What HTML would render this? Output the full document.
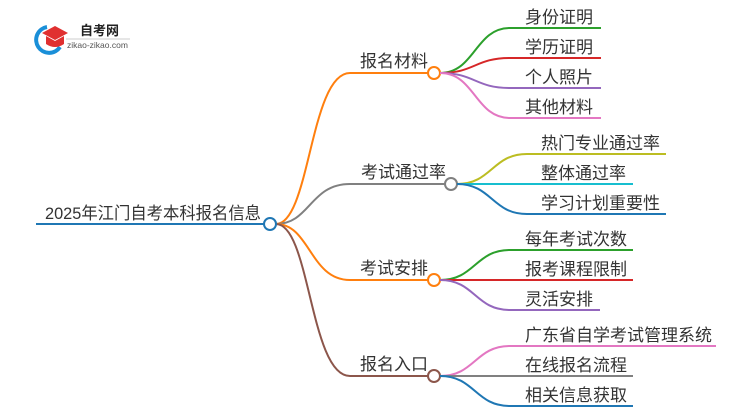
<!DOCTYPE html>
<html><head><meta charset="utf-8"><style>
body{margin:0;width:750px;height:410px;background:#fff;overflow:hidden}
svg text{font-family:"Liberation Sans","Noto Sans CJK SC",sans-serif;fill:#333}
</style></head><body>
<svg width="750" height="410" viewBox="0 0 750 410" xmlns="http://www.w3.org/2000/svg" fill="none" stroke-width="2">
<!-- logo -->
<path d="M47 27 A13 13 0 1 0 60 47" stroke="#1a8fd8" stroke-width="4"/>
<polygon points="42,33 55,26 68,33 55,40" fill="#e03030"/>
<path d="M46 36 v8 q9 6 18 0 v-8 l-9 5z" fill="#e03030"/>
<text x="80" y="35" font-size="13" font-weight="bold" style="fill:#222">自考网</text>
<line x1="66" y1="39" x2="130" y2="39" stroke="#ccc" stroke-width="1"/>
<text x="67" y="48" font-size="8.5" style="fill:#555">zikao-zikao.com</text>

<!-- root -->
<line x1="36" y1="224" x2="264" y2="224" stroke="#1f77b4"/>
<text x="45" y="219" font-size="17" textLength="216" lengthAdjust="spacingAndGlyphs">2025年江门自考本科报名信息</text>

<!-- main branches -->
<path d="M276 224 C310 224 310 73 350 73 H428" stroke="#ff7f0e"/>
<path d="M276 224 C310 224 310 184 350 184 H445" stroke="#808080"/>
<path d="M276 224 C310 224 310 280 350 280 H428" stroke="#ff7f0e"/>
<path d="M276 224 C310 224 310 376 350 376 H428" stroke="#8c564b"/>
<circle cx="270" cy="224" r="6" fill="#fff" stroke="#1f77b4"/>
<circle cx="434" cy="73" r="6" fill="#fff" stroke="#ff7f0e"/>
<circle cx="451" cy="184" r="6" fill="#fff" stroke="#808080"/>
<circle cx="434" cy="280" r="6" fill="#fff" stroke="#ff7f0e"/>
<circle cx="434" cy="376" r="6" fill="#fff" stroke="#8c564b"/>
<g font-size="17">
<text x="360" y="67">报名材料</text>
<text x="361" y="178">考试通过率</text>
<text x="360" y="274">考试安排</text>
<text x="360" y="370">报名入口</text>
</g>

<!-- leaves branch 1 -->
<path d="M440 73 C475 73 475 28 510 28 H601" stroke="#2ca02c"/>
<path d="M440 73 C475 73 475 58 510 58 H601" stroke="#d62728"/>
<path d="M440 73 C475 73 475 88 510 88 H601" stroke="#9467bd"/>
<path d="M440 73 C475 73 475 118 510 118 H601" stroke="#e377c2"/>
<!-- branch 2 -->
<path d="M457 184 C492 184 492 154 527 154 H666" stroke="#bcbd22"/>
<path d="M457 184 H633" stroke="#17becf"/>
<path d="M457 184 C492 184 492 214 527 214 H666" stroke="#1f77b4"/>
<!-- branch 3 -->
<path d="M440 280 C475 280 475 250 510 250 H633" stroke="#2ca02c"/>
<path d="M440 280 H633" stroke="#d62728"/>
<path d="M440 280 C475 280 475 310 510 310 H600" stroke="#9467bd"/>
<!-- branch 4 -->
<path d="M440 376 C475 376 475 346 510 346 H716" stroke="#e377c2"/>
<path d="M440 376 H633" stroke="#808080"/>
<path d="M440 376 C475 376 475 406 510 406 H633" stroke="#1f77b4"/>

<g font-size="17">
<text x="525" y="23">身份证明</text>
<text x="525" y="53">学历证明</text>
<text x="525" y="83">个人照片</text>
<text x="525" y="113">其他材料</text>
<text x="541" y="149">热门专业通过率</text>
<text x="541" y="179">整体通过率</text>
<text x="541" y="209">学习计划重要性</text>
<text x="525" y="245">每年考试次数</text>
<text x="525" y="275">报考课程限制</text>
<text x="525" y="305">灵活安排</text>
<text x="525" y="341">广东省自学考试管理系统</text>
<text x="525" y="371">在线报名流程</text>
<text x="525" y="401">相关信息获取</text>
</g>
</svg>
</body></html>
